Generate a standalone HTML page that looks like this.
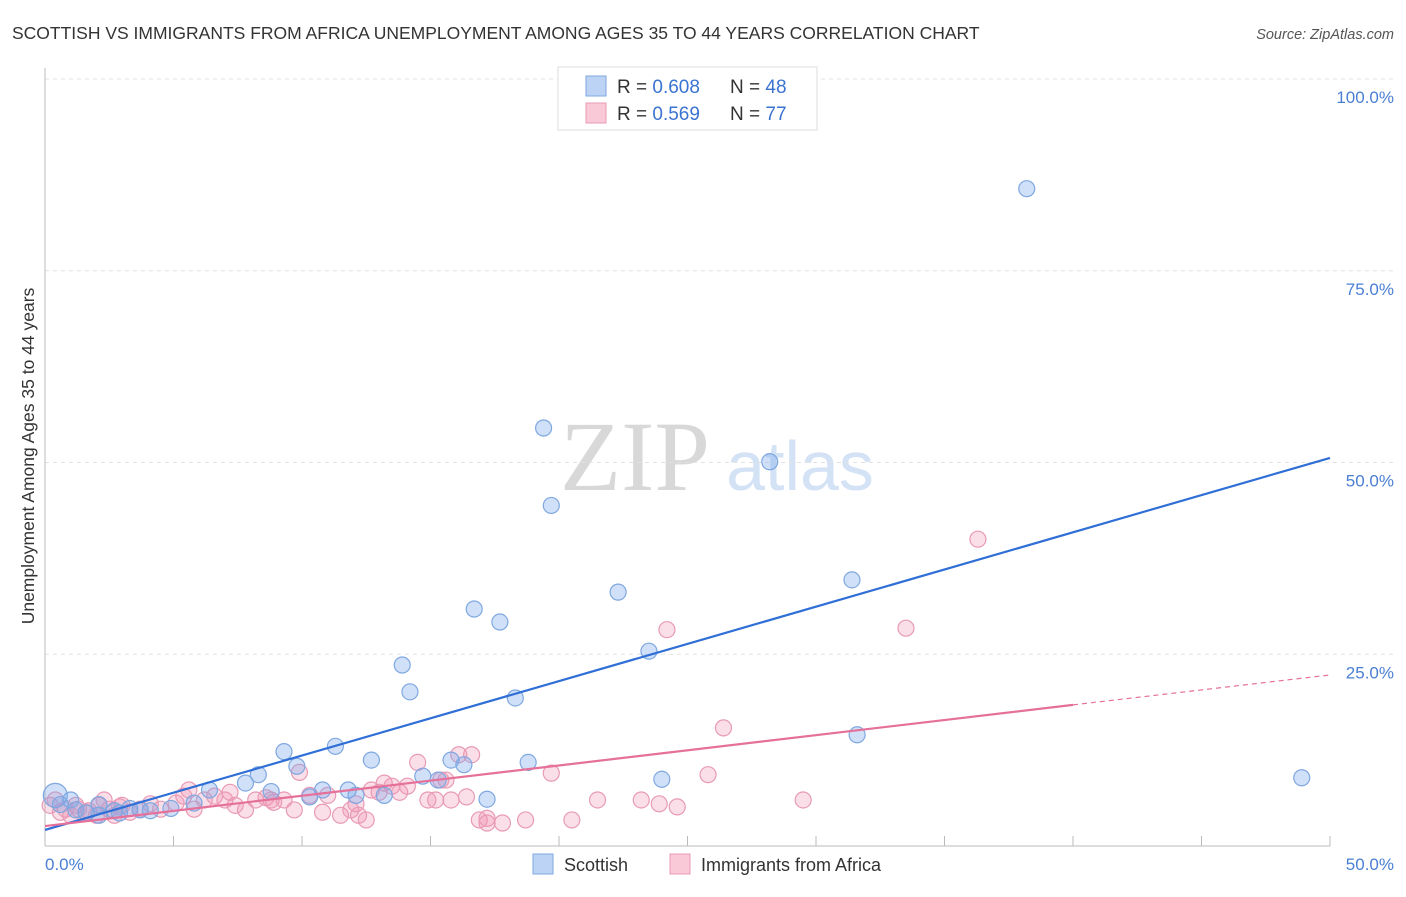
<!DOCTYPE html>
<html><head><meta charset="utf-8"><style>
body{margin:0;background:#fff;font-family:"Liberation Sans",sans-serif;}
svg text{font-family:"Liberation Sans",sans-serif;}
</style></head><body>
<svg id="c" width="1406" height="892">
<text x="12" y="39" font-size="17.5" fill="#333">SCOTTISH VS IMMIGRANTS FROM AFRICA UNEMPLOYMENT AMONG AGES 35 TO 44 YEARS CORRELATION CHART</text>
<text x="1394" y="39" font-size="14.5" fill="#555" font-style="italic" text-anchor="end">Source: ZipAtlas.com</text>
<text x="635" y="490" font-size="100" fill="#d8d8d8" style="font-family:'Liberation Serif',serif" text-anchor="middle">ZIP</text>
<text x="800" y="490" font-size="70" fill="#d4e2f6" text-anchor="middle">atlas</text>
<g id="grid"></g><g id="pts"></g><g id="lines"></g>
<text transform="translate(34,456) rotate(-90)" font-size="17.5" fill="#333" text-anchor="middle">Unemployment Among Ages 35 to 44 years</text>
<text x="45" y="870" font-size="17" fill="#4a7fd4">0.0%</text>
<text x="1394" y="870" font-size="17" fill="#4a7fd4" text-anchor="end">50.0%</text>
<g>
<rect x="558" y="67" width="259" height="63" fill="#fff" stroke="#ddd"/>
<rect x="586" y="76" width="20" height="20" fill="#bcd3f5" stroke="#7fa8e0"/>
<rect x="586" y="103" width="20" height="20" fill="#f9c9d8" stroke="#e89ab5"/>
<text x="617" y="93" font-size="19" fill="#333">R = <tspan fill="#3a73d0">0.608</tspan><tspan x="730">N = </tspan><tspan fill="#3a73d0">48</tspan></text>
<text x="617" y="120" font-size="19" fill="#333">R = <tspan fill="#3a73d0">0.569</tspan><tspan x="730">N = </tspan><tspan fill="#3a73d0">77</tspan></text>
</g>
<g><rect x="533" y="854" width="20" height="20" fill="#bcd3f5" stroke="#7fa8e0"/><text x="564" y="871" font-size="18" fill="#333">Scottish</text></g>
<g><rect x="670" y="854" width="20" height="20" fill="#f9c9d8" stroke="#e89ab5"/><text x="701" y="871" font-size="18" fill="#333">Immigrants from Africa</text></g>
</svg>
<script>
const blueX=[0.4,1,1.6,2.1,2.7,3.3,4.1,4.9,5.8,6.4,7.8,8.3,8.8,9.3,9.8,10.3,10.8,11.3,11.8,12.1,12.7,13.2,13.9,14.2,14.7,15.3,15.8,16.3,16.7,17.2,17.7,18.3,18.8,19.4,19.7,22.3,23.5,24,28.2,31.4,31.6,38.2,48.9,2.1,0.6,1.2,3.7,2.9];
const blueY=[6.6,6,4.3,4,4.6,4.9,4.6,4.9,5.6,7.3,8.2,9.3,7.1,12.3,10.4,6.4,7.3,13,7.3,6.6,11.2,6.6,23.6,20.1,9.1,8.6,11.2,10.6,30.9,6.1,29.2,19.3,10.9,54.5,44.4,33.1,25.4,8.7,50.1,34.7,14.5,85.7,8.9,5.4,5.4,4.7,4.7,4.3];
const pinkX=[0.2,0.6,1,1.3,1.7,2.1,2.5,2.9,3.3,3.7,4.1,4.5,5.1,5.4,5.8,6.2,6.6,7,7.4,7.8,8.2,8.6,8.9,9.3,9.7,9.9,10.3,10.8,11,11.5,11.9,12.2,12.5,12.7,13.2,13.5,13.8,14.1,14.5,14.9,15.2,15.6,15.8,16.1,16.4,16.6,16.9,17.2,17.8,18.7,19.7,20.5,21.5,23.2,23.9,24.2,24.6,25.8,26.4,29.5,33.5,36.3,5.6,7.2,8.8,13,15.4,17.2,12.1,0.4,0.8,1.2,1.6,2,2.3,2.7,3];
const pinkY=[5.3,4.4,4,4.8,4.6,5.3,4.8,5.1,4.4,4.8,5.5,4.8,5.6,6.5,4.8,6,6.5,6,5.3,4.7,6,6.3,5.7,6,4.7,9.6,6.6,4.4,6.6,4,4.7,4,3.4,7.3,8.2,7.8,7,7.8,10.9,6,6,8.6,6,11.9,6.4,11.9,3.4,3.6,3,3.4,9.5,3.4,6,6,5.5,28.2,5.1,9.3,15.4,6,28.4,40,7.3,7,6,7,8.6,3,5.5,6,4.8,5.3,4.4,4,6,4,5.3];
const blueLine=[2.1,50.6],pinkLine=[2.6,18.4,22.3];
const yTicks=[25,50,75,100];
const X=v=>45+v*25.7, Y=v=>846-v*7.67;
const NS="http://www.w3.org/2000/svg";
function mk(t,a,p){const e=document.createElementNS(NS,t);for(const k in a)e.setAttribute(k,a[k]);p.appendChild(e);return e;}
const grid=document.getElementById('grid');
yTicks.forEach(t=>{const l=mk('line',{x1:45,x2:1394,y1:Y(t),y2:Y(t),stroke:'#e2e2e2','stroke-dasharray':'4,4'},grid);


const tx=mk('text',{x:1394,y:Y(t)+24,'font-size':17,fill:'#4a7fd4','text-anchor':'end'},grid);tx.textContent=t.toFixed(1)+'%';

});
mk('line',{x1:45,x2:45,y1:68,y2:846,stroke:'#bbb'},grid);
mk('line',{x1:45,x2:1330,y1:846,y2:846,stroke:'#bbb'},grid);
for(let i=0;i<=10;i++){const tk=mk('line',{x1:X(i*5),x2:X(i*5),y1:846,y2:836,stroke:'#bbb'},grid);

}
const pts=document.getElementById('pts');
pinkX.forEach((x,i)=>{const c=mk('circle',{cx:X(x),cy:Y(pinkY[i]),r:8,fill:'rgba(242,150,180,0.3)',stroke:'#e89ab5','stroke-width':1.2},pts);

});
blueX.forEach((x,i)=>{const c=mk('circle',{cx:X(x),cy:Y(blueY[i]),r:i==0?12:8,fill:'rgba(120,165,235,0.35)',stroke:'#7fa8e0','stroke-width':1.2},pts);

});
const lines=document.getElementById('lines');
const bl=mk('line',{x1:X(0),y1:Y(blueLine[0]),x2:X(50),y2:Y(blueLine[1]),stroke:'#2f6fd6','stroke-width':2.2},lines);


const pl=mk('line',{x1:X(0),y1:Y(pinkLine[0]),x2:X(40),y2:Y(pinkLine[1]),stroke:'#e5709a','stroke-width':2.2},lines);


const pd=mk('line',{x1:X(40),y1:Y(pinkLine[1]),x2:X(50),y2:Y(pinkLine[2]),stroke:'#e5709a','stroke-width':1.2,'stroke-dasharray':'5,4'},lines);


</script>
</body></html>
